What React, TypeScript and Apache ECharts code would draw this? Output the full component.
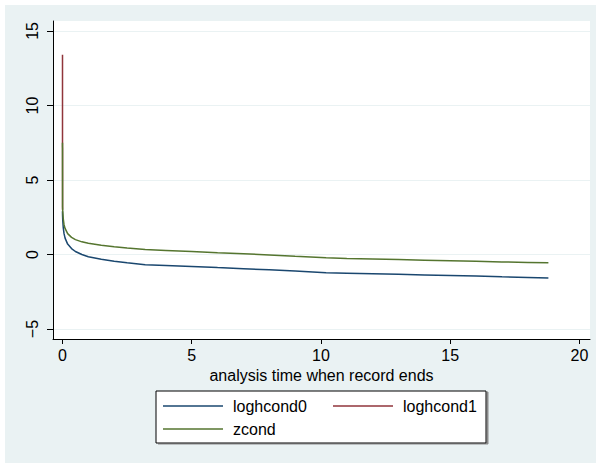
import React, { useEffect, useRef } from "react";
import * as echarts from "echarts";

// analysis time (x) shared by loghcond0 and zcond
const analysisTime = [0, 0.003, 0.01, 0.03, 0.06, 0.1, 0.2, 0.35, 0.5, 0.75, 1.0, 1.5, 2.0, 2.5, 3.2, 4.0, 5.0, 6.0, 7.0, 8.0, 9.0, 10.2, 11, 12, 13, 14, 15, 16, 17, 18, 18.8];
const loghcond0 = [2.9, 2.6, 2.3, 1.8, 1.4, 1.1, 0.7, 0.4, 0.2, 0.0, -0.15, -0.32, -0.45, -0.56, -0.68, -0.73, -0.8, -0.88, -0.95, -1.03, -1.11, -1.22, -1.25, -1.29, -1.33, -1.37, -1.41, -1.45, -1.5, -1.54, -1.58];
const zcond = [7.5, 3.2, 2.9, 2.4, 2.0, 1.75, 1.4, 1.15, 1.0, 0.85, 0.75, 0.62, 0.52, 0.43, 0.33, 0.27, 0.2, 0.12, 0.05, -0.03, -0.12, -0.22, -0.26, -0.3, -0.34, -0.38, -0.42, -0.46, -0.5, -0.53, -0.56];
// loghcond1: only its spike near t = 0 is visible
const loghcond1Time = [0, 0.003];
const loghcond1 = [13.4, 3.0];

const xTicks = [0, 5, 10, 15, 20];
const yTicks = [-5, 0, 5, 10, 15];

const NAVY = "#1A476F";
const MAROON = "#90353B";
const GREEN = "#55752F";
const BG = "#EAF2F3";
const FONT = "Liberation Sans, Arial, sans-serif";

const pairs = (xs: number[], ys: number[]) => xs.map((x, i) => [x, ys[i]]);

export default function App() {
  const ref = useRef<HTMLDivElement>(null);
  useEffect(() => {
    if (!ref.current) return;
    const chart = echarts.init(ref.current, null, { renderer: "svg" });
    const legendText = { color: "#000", fontSize: 16, fontFamily: FONT, padding: [0, 0, 0, 5], lineHeight: 16 };
    const legendBase = {
      orient: "horizontal",
      padding: 0,
      itemWidth: 60,
      itemHeight: 1.5,
      icon: "rect",
      selectedMode: false,
      textStyle: legendText,
    };
    chart.setOption({
      animation: false,
      backgroundColor: "#fff",
      graphic: [
        { type: "rect", z: -10, shape: { x: 5, y: 5, width: 591, height: 458 }, style: { fill: BG } },
        {
          type: "rect",
          z: 1,
          shape: { x: 156, y: 391, width: 330, height: 52 },
          style: { fill: "#fff", stroke: "#000", lineWidth: 1, shadowColor: "#8a8a8a", shadowOffsetX: 2, shadowOffsetY: 1, shadowBlur: 0 },
        },
      ],
      grid: {
        left: 53,
        top: 21,
        width: 537,
        height: 318,
        show: true,
        backgroundColor: "#fff",
        borderWidth: 0,
      },
      xAxis: {
        type: "value",
        min: -0.367,
        max: 20.41,
        name: "analysis time when record ends",
        nameLocation: "middle",
        nameGap: 26,
        nameTextStyle: { color: "#000", fontSize: 16, fontFamily: FONT },
        axisLine: { show: true, onZero: false, lineStyle: { color: "#000", width: 1 } },
        axisTick: { show: true, length: 5, customValues: xTicks, lineStyle: { color: "#000" } },
        axisLabel: { customValues: xTicks, color: "#000", fontSize: 16, fontFamily: FONT, margin: 8 },
        splitLine: { show: false },
      },
      yAxis: {
        type: "value",
        min: -5.67,
        max: 15.67,
        axisLine: { show: true, onZero: false, lineStyle: { color: "#000", width: 1 } },
        axisTick: { show: true, length: 6, customValues: yTicks, lineStyle: { color: "#000" } },
        axisLabel: {
          customValues: yTicks,
          rotate: 90,
          color: "#000",
          fontSize: 16,
          fontFamily: FONT,
          margin: 13,
          formatter: (v: number) => String(v).replace("-", "\u2212"),
        },
        splitLine: { show: true, lineStyle: { color: BG, width: 1.2 } },
      },
      legend: [
        { ...legendBase, left: 163, top: 398, data: ["loghcond0"] },
        { ...legendBase, left: 333, top: 398, data: ["loghcond1"] },
        { ...legendBase, left: 163, top: 421, data: ["zcond"] },
      ],
      series: [
        { name: "loghcond0", type: "line", symbol: "none", data: pairs(analysisTime, loghcond0), lineStyle: { color: NAVY, width: 1.5 }, itemStyle: { color: NAVY } },
        { name: "loghcond1", type: "line", symbol: "none", data: pairs(loghcond1Time, loghcond1), lineStyle: { color: MAROON, width: 1.5 }, itemStyle: { color: MAROON } },
        { name: "zcond", type: "line", symbol: "none", data: pairs(analysisTime, zcond), lineStyle: { color: GREEN, width: 1.5 }, itemStyle: { color: GREEN } },
      ],
    });
    return () => chart.dispose();
  }, []);
  return <div ref={ref} style={{ position: "fixed", left: 0, top: 0, width: 596, height: 463 }} />;
}
